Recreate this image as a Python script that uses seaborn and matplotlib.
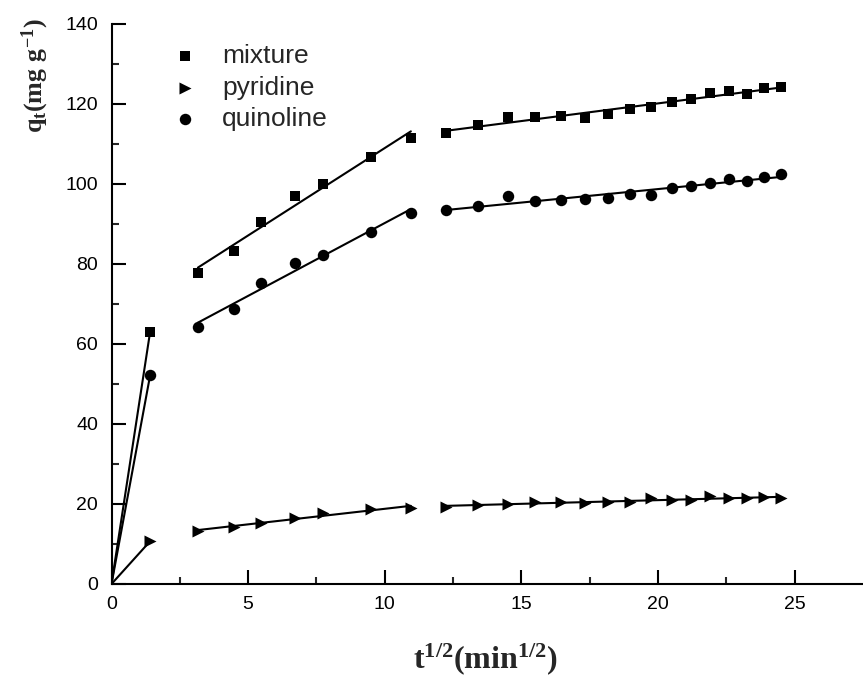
import numpy as np
import pandas as pd
import matplotlib
matplotlib.use("Agg")
import matplotlib.pyplot as plt
import seaborn as sns

# ---- data ----
times = [2, 10, 20, 30, 45, 60, 90, 120, 150, 180, 210, 240, 270, 300,
         330, 360, 390, 420, 450, 480, 510, 540, 570, 600]
sqrt_t = list(np.sqrt(times))

mixture = [63.1, 77.8, 83.3, 90.5, 97.0, 100.0, 106.8, 111.4,
           112.8, 114.7, 116.8, 116.8, 117.0, 116.6, 117.5, 118.8,
           119.2, 120.4, 121.2, 122.7, 123.2, 122.5, 123.9, 124.3]
pyridine = [10.7, 13.3, 14.3, 15.2, 16.4, 17.7, 18.7, 18.9,
            19.2, 19.7, 19.9, 20.6, 20.6, 20.2, 20.4, 20.6,
            21.4, 21.0, 21.0, 22.0, 21.4, 21.4, 21.7, 21.4]
quinoline = [52.2, 64.3, 68.7, 75.3, 80.3, 82.2, 88.1, 92.7,
             93.6, 94.4, 97.0, 95.8, 95.9, 96.2, 96.5, 97.5,
             97.2, 98.9, 99.4, 100.3, 101.3, 100.7, 101.8, 102.5]

series_names = ["mixture", "pyridine", "quinoline"]
series_values = [mixture, pyridine, quinoline]
series_markers = ["s", ">", "o"]
series_sizes = [62, 75, 68]

# segment index boundaries (stage 1: origin -> first point, stage 2, stage 3)
seg_bounds = [(0, 1), (1, 8), (8, 24)]

x_ticks = [0, 5, 10, 15, 20, 25]
y_ticks = [0, 20, 40, 60, 80, 100, 120, 140]

df = pd.DataFrame({
    "x": sqrt_t * 3,
    "q": mixture + pyridine + quinoline,
    "series": sum([[n] * len(sqrt_t) for n in series_names], []),
})

# ---- style ----
sns.set_theme(style="ticks")
plt.rcParams["font.family"] = ["Liberation Sans", "DejaVu Sans"]
plt.rcParams["mathtext.fontset"] = "custom"
plt.rcParams["mathtext.rm"] = "Liberation Serif:bold"
plt.rcParams["mathtext.it"] = "Liberation Serif:bold"
plt.rcParams["mathtext.bf"] = "Liberation Serif:bold"

fig = plt.figure(figsize=(8.63, 6.78), dpi=100)
ax = fig.add_axes([111.5 / 863, 94 / 678, 751.5 / 863, 560 / 678])

for name, vals, mk, sz in zip(series_names, series_values, series_markers, series_sizes):
    sub = df[df["series"] == name]
    sns.scatterplot(data=sub, x="x", y="q", marker=mk, s=sz, color="black",
                    edgecolor="black", linewidth=0, label=name, ax=ax, zorder=3)
    for a, b in seg_bounds:
        xs = list(sub["x"].iloc[a:b])
        ys = list(sub["q"].iloc[a:b])
        if a == 0:
            xs = [0.0] + xs
            ys = [0.0] + ys
        sns.regplot(x=np.array(xs), y=np.array(ys), scatter=False, ci=None,
                    truncate=True, color="black", ax=ax,
                    line_kws={"lw": 1.5, "zorder": 2})

ax.set_xlim(0, 27.5)
ax.set_ylim(0, 140)
ax.set_xticks(x_ticks)
ax.set_yticks(y_ticks)
ax.set_xticks(np.arange(2.5, 27.5, 5), minor=True)
ax.set_yticks(np.arange(10, 140, 20), minor=True)
ax.tick_params(which="major", direction="in", length=10, width=1.5,
               labelsize=14, colors="black")
ax.tick_params(axis="y", which="major", pad=9.7)
ax.tick_params(axis="x", which="major", pad=8.3)
ax.tick_params(which="minor", direction="in", length=5, width=1.5)
for s in ["top", "right"]:
    ax.spines[s].set_visible(False)
for s in ["left", "bottom"]:
    ax.spines[s].set_linewidth(1.5)
    ax.spines[s].set_color("black")

ax.set_xlabel(r"$\mathbf{t^{1/2}(min^{1/2})}$", fontsize=23)
ax.set_ylabel(r"$\mathbf{q_t(mg\ g^{-1})}$", fontsize=18.7)
ax.xaxis.set_label_coords(0.498, -0.103)
ax.yaxis.set_label_coords(-0.081, 0.907)

leg = ax.legend(loc="upper left", bbox_to_anchor=(0.063, 0.964),
                frameon=False, fontsize=19, handletextpad=0.4,
                labelspacing=0.28, borderpad=0, borderaxespad=0)

fig.savefig("out.png", dpi=100)
